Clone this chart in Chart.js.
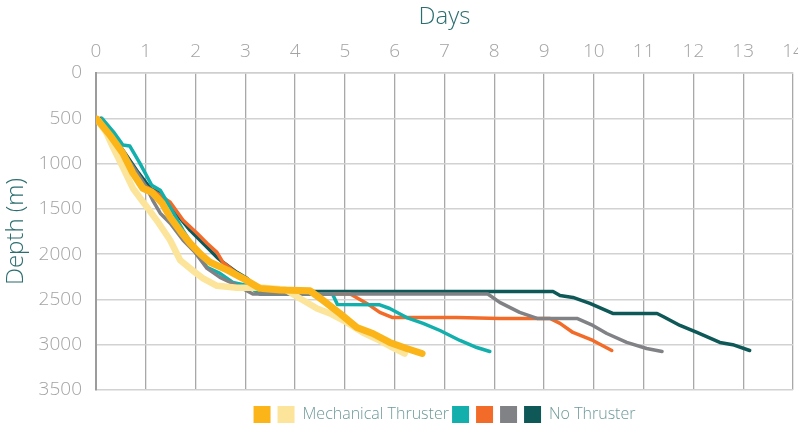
<!DOCTYPE html>
<html>
<head>
<meta charset="utf-8">
<script src="https://cdn.jsdelivr.net/npm/chart.js@4"></script>
<style>
  html, body { margin: 0; padding: 0; background: #fff; overflow: hidden; }
  #wrap { width: 798px; height: 433px; position: relative; }
</style>
</head>
<body>
<div id="wrap"><canvas id="myChart"></canvas></div>
<script>
// series data: days on x, depth (m) on y
let mechA_days = [0.02, 0.3, 0.54, 0.74, 0.94, 1.12, 1.33, 1.49, 1.7, 1.89, 2.1, 2.29, 2.65, 2.95, 3.29, 3.69, 4.3, 4.56, 4.9, 5.24, 5.56, 5.9, 6.24, 6.55];
let mechA_depth = [510, 700, 886, 1106, 1272, 1316, 1438, 1593, 1750, 1880, 2000, 2090, 2179, 2267, 2378, 2395, 2405, 2511, 2655, 2810, 2876, 2975, 3042, 3097];

let mechB_days = [0.02, 0.2, 0.34, 0.54, 0.74, 1.04, 1.25, 1.49, 1.69, 1.99, 2.15, 2.43, 2.83, 3.35, 3.8, 4.1, 4.44, 4.7, 5.04, 5.36, 5.7, 5.96, 6.2];
let mechB_depth = [510, 650, 818, 1040, 1272, 1493, 1650, 1847, 2068, 2201, 2267, 2350, 2370, 2370, 2390, 2489, 2600, 2655, 2754, 2865, 2954, 3031, 3097];

let teal_days = [0.12, 0.35, 0.54, 0.68, 0.88, 1.12, 1.29, 1.49, 1.75, 2.03, 2.23, 2.49, 2.75, 3.03, 3.29, 4.75, 4.85, 5.7, 5.9, 6.24, 6.57, 6.91, 7.31, 7.65, 7.91];
let teal_depth = [500, 650, 796, 807, 995, 1239, 1294, 1482, 1737, 1980, 2146, 2212, 2312, 2345, 2440, 2440, 2555, 2560, 2600, 2700, 2765, 2843, 2953, 3031, 3075];

let orange_days = [0.05, 0.3, 0.55, 0.8, 1.0, 1.2, 1.49, 1.75, 2.03, 2.23, 2.43, 2.55, 2.75, 3.0, 3.3, 5.1, 5.16, 5.44, 5.7, 5.96, 6.57, 7.25, 8.11, 9.12, 9.32, 9.58, 9.98, 10.36];
let orange_depth = [500, 700, 900, 1100, 1250, 1320, 1427, 1626, 1770, 1880, 1980, 2090, 2179, 2300, 2440, 2440, 2456, 2544, 2643, 2700, 2700, 2700, 2710, 2710, 2765, 2865, 2953, 3064];

let grey_days = [0.05, 0.3, 0.55, 0.8, 1.0, 1.14, 1.29, 1.49, 1.75, 1.99, 2.23, 2.49, 2.83, 3.15, 7.87, 8.11, 8.51, 8.86, 9.66, 9.98, 10.26, 10.66, 11.06, 11.37];
let grey_depth = [500, 700, 880, 1080, 1250, 1405, 1548, 1659, 1847, 1980, 2157, 2256, 2345, 2440, 2440, 2533, 2643, 2710, 2710, 2787, 2876, 2975, 3042, 3075];

let dark_days = [0.1, 0.35, 0.6, 0.85, 1.1, 1.3, 1.5, 1.7, 1.89, 2.15, 2.43, 2.55, 2.83, 3.03, 3.3, 9.18, 9.32, 9.58, 9.92, 10.38, 11.27, 11.39, 11.73, 12.07, 12.53, 12.79, 13.13];
let dark_depth = [500, 700, 900, 1100, 1280, 1330, 1480, 1610, 1737, 1880, 2035, 2090, 2201, 2267, 2412, 2412, 2456, 2478, 2544, 2655, 2655, 2688, 2787, 2865, 2975, 3000, 3064];

let seriesNames = ["", "Mechanical Thruster ", "", "", "", "No Thruster"];
let seriesColors = ["#fbb519", "#fce59a", "#13afac", "#f26b28", "#808285", "#0e5858"];
let seriesWidths = [7, 6.5, 3.5, 3.5, 3.5, 3.5];
let drawOrder = [0, 1, 3, 4, 2, 5]; // lower = drawn on top

let xTicks = [0, 14, 1];      // min, max, step (days)
let yTicks = [0, 3500, 500];  // min, max, step (m)

function toPoints(days, depth) {
  return days.map((d, i) => ({ x: d, y: depth[i] }));
}

let allSeries = [
  toPoints(mechA_days, mechA_depth),
  toPoints(mechB_days, mechB_depth),
  toPoints(teal_days, teal_depth),
  toPoints(orange_days, orange_depth),
  toPoints(grey_days, grey_depth),
  toPoints(dark_days, dark_depth),
];

let datasets = allSeries.map((pts, i) => ({
  label: seriesNames[i],
  data: pts,
  order: drawOrder[i],
  borderColor: seriesColors[i],
  backgroundColor: seriesColors[i],
  borderWidth: seriesWidths[i],
  borderCapStyle: "round",
  borderJoinStyle: "round",
  pointRadius: 0,
  tension: 0,
  fill: false,
}));

let fam = "'Open Sans', Lato, sans-serif";
let tickFont = { family: fam, size: 19, weight: "300" };
let titleFont = { family: fam, size: 24, weight: "300", lineHeight: 1.2 };

let ctx = document.getElementById("myChart").getContext("2d");
let myChart = new Chart(ctx, {
  type: "line",
  data: { datasets: datasets },
  options: {
    responsive: true,
    maintainAspectRatio: false,
    animation: false,
    layout: { padding: { left: 0, right: 5, top: 0, bottom: 0 } },
    plugins: {
      tooltip: { enabled: false },
      legend: {
        position: "bottom",
        fullSize: false,
        title: { display: true, text: "", font: { size: 10, lineHeight: 1 }, padding: { top: 0, bottom: 7 } },
        labels: {
          boxWidth: 17,
          boxHeight: 17,
          padding: -1,
          color: "#6e9999",
          font: { family: fam, size: 16, weight: "300" },
          generateLabels: (chart) =>
            Chart.defaults.plugins.legend.labels.generateLabels(chart)
              .map((l) => ({ ...l, lineWidth: 0 }))
              .sort((a, b) => a.datasetIndex - b.datasetIndex),
        },
      },
    },
    scales: {
      x: {
        type: "linear",
        position: "top",
        min: xTicks[0],
        max: xTicks[1],
        ticks: { stepSize: xTicks[2], color: "#a3a3a3", font: tickFont, padding: 10, maxRotation: 0 },
        grid: { color: "#a8a8a8", lineWidth: 1.3, drawTicks: false },
        border: { color: "#cfcfcf", width: 1.5 },
        title: { display: true, text: "Days", color: "#2c6e6f", font: titleFont, padding: { top: 3, bottom: 0 } },
        afterFit: (axis) => { axis.height = 73; axis.paddingLeft = 0; axis.paddingRight = 0; },
      },
      y: {
        type: "linear",
        reverse: true,
        min: yTicks[0],
        max: yTicks[1],
        ticks: { stepSize: yTicks[2], color: "#a3a3a3", font: tickFont, padding: 14, callback: (v) => String(v) },
        grid: { color: "#d2d2d2", lineWidth: 1.5, drawTicks: false },
        border: { color: "#9c9c9c", width: 2 },
        title: { display: true, text: "Depth (m)", color: "#2c6e6f", font: titleFont, padding: { top: 2, bottom: 0 } },
        afterFit: (axis) => { axis.width = 96; axis.paddingTop = 0; axis.paddingBottom = 0; },
      },
    },
  },
});
</script>
</body>
</html>
